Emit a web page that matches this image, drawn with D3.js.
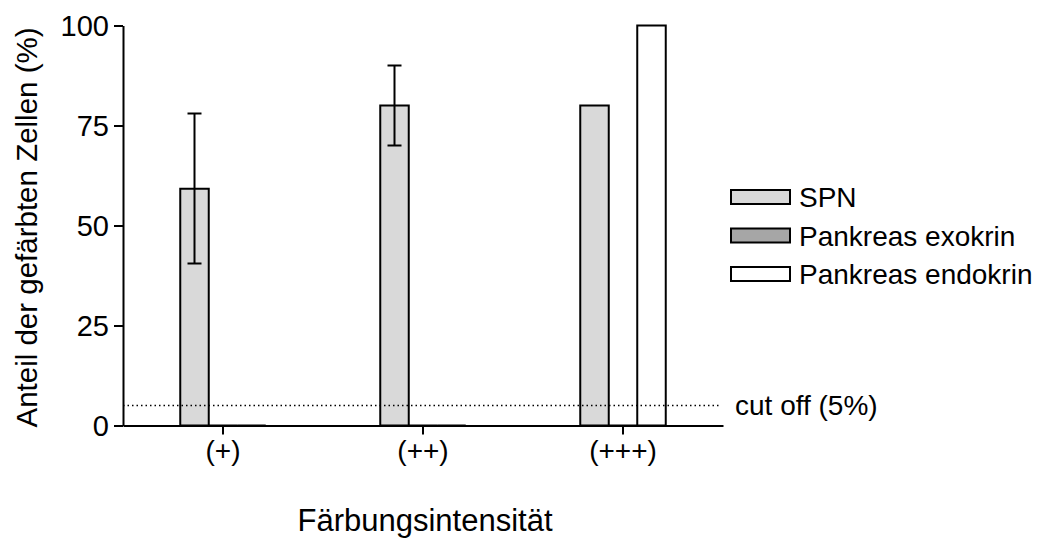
<!DOCTYPE html>
<html>
<head>
<meta charset="utf-8">
<script src="https://cdn.jsdelivr.net/npm/d3@7"></script>
<style>
  body { margin: 0; background: #fff; }
  svg text { font-family: "Liberation Sans", Arial, sans-serif; fill: #000; }
</style>
</head>
<body>
<div id="chart"></div>
<script>
// Data
const categories = ["(+)", "(++)", "(+++)"];
const seriesNames = ["SPN", "Pankreas exokrin", "Pankreas endokrin"];
const spnValues = [59.2, 80, 80];
const spnErrLow = [40.5, 70, null];
const spnErrHigh = [78, 90, null];
const exokrinValues = [0, 0, 0];
const endokrinValues = [0, 0, 100];
const yTicks = [0, 25, 50, 75, 100];
const cutOff = 5;

const seriesValues = [spnValues, exokrinValues, endokrinValues];
const seriesFill = ["#d9d9d9", "#a6a6a6", "#ffffff"];

const W = 1040, H = 539;
const svg = d3.select("#chart").append("svg")
  .attr("width", W).attr("height", H);

const x0 = d3.scaleBand().domain(categories).range([123, 723]).padding(0);
const groupW = 85.5;
const x1 = d3.scaleBand().domain(seriesNames)
  .range([x0.bandwidth() / 2 - groupW / 2, x0.bandwidth() / 2 + groupW / 2]);
const y = d3.scaleLinear().domain([0, 100]).range([425.5, 25.5]);

// bars (paths so zero-height bars still show as a line)
seriesNames.forEach((s, si) => {
  svg.append("g").selectAll("path")
    .data(categories.map((c, ci) => ({ c, v: seriesValues[si][ci] })))
    .enter().append("path")
    .attr("d", d => {
      const xa = x0(d.c) + x1(s), xb = xa + x1.bandwidth();
      return `M${xa},${y(0)}V${y(d.v)}H${xb}V${y(0)}Z`;
    })
    .attr("fill", seriesFill[si])
    .attr("stroke", "#000")
    .attr("stroke-width", 2);
});

// error bars on SPN
const errData = categories.map((c, i) => ({ c, lo: spnErrLow[i], hi: spnErrHigh[i] }))
  .filter(d => d.lo != null);
const err = svg.append("g").attr("stroke", "#000").attr("stroke-width", 2);
errData.forEach(d => {
  const cx = x0(d.c) + x1("SPN") + x1.bandwidth() / 2;
  err.append("line").attr("x1", cx).attr("x2", cx).attr("y1", y(d.lo)).attr("y2", y(d.hi));
  [d.lo, d.hi].forEach(v => {
    err.append("line").attr("x1", cx - 7).attr("x2", cx + 7).attr("y1", y(v)).attr("y2", y(v));
  });
});

// cut off line
svg.append("line")
  .attr("x1", 123).attr("x2", 720)
  .attr("y1", y(cutOff)).attr("y2", y(cutOff))
  .attr("stroke", "#000").attr("stroke-width", 1.5)
  .attr("stroke-dasharray", "1.5 3");

svg.append("text")
  .attr("x", 735).attr("y", y(cutOff) + 9)
  .style("font-size", "28px")
  .text("cut off (5%)");

// axes
const yAxis = svg.append("g")
  .attr("transform", "translate(123,0)")
  .call(d3.axisLeft(y).tickValues(yTicks).tickSize(9).tickSizeOuter(0).tickPadding(5));
yAxis.selectAll("text").style("font-size", "29px").attr("dy", "0.35em");

const xAxis = svg.append("g")
  .attr("transform", `translate(0,${y(0)})`)
  .call(d3.axisBottom(x0).tickSize(9).tickSizeOuter(0).tickPadding(6));
xAxis.selectAll("text").style("font-size", "28px");

svg.selectAll(".domain, .tick line").attr("stroke", "#000").attr("stroke-width", 2);

// axis titles
svg.append("text")
  .attr("transform", "rotate(-90)")
  .attr("x", -227.5).attr("y", 37)
  .attr("text-anchor", "middle")
  .style("font-size", "29.5px")
  .text("Anteil der gefärbten Zellen (%)");

svg.append("text")
  .attr("x", 425).attr("y", 531)
  .attr("text-anchor", "middle")
  .style("font-size", "31px")
  .text("Färbungsintensität");

// legend
const legend = svg.append("g").attr("transform", "translate(731,190)");
seriesNames.forEach((s, i) => {
  const g = legend.append("g").attr("transform", `translate(0,${i * 38.5})`);
  g.append("rect")
    .attr("width", 59).attr("height", 14)
    .attr("fill", seriesFill[i])
    .attr("stroke", "#000").attr("stroke-width", 2);
  g.append("text")
    .attr("x", 68).attr("y", 17)
    .style("font-size", "28px")
    .text(s);
});
</script>
</body>
</html>
